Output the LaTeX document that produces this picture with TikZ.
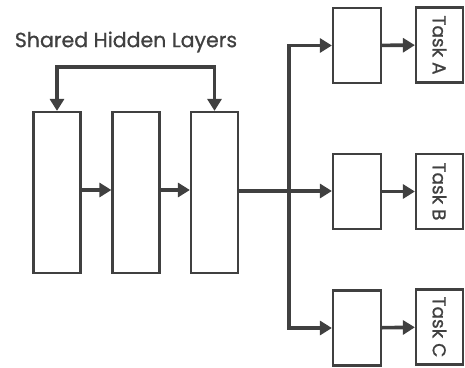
\documentclass[tikz,border=0pt]{standalone}
\usepackage{fontspec}
\setmainfont{Poppins}
\newfontfamily\labelfont{Poppins}[FakeBold=0.8]
\usetikzlibrary{arrows.meta}
\definecolor{ink}{HTML}{404040}
\begin{document}
\begin{tikzpicture}[x=1pt,y=-1pt,
  layer/.style={draw=ink,line width=2.2pt,fill=white,inner sep=0pt,
    minimum width=47pt,minimum height=161pt},
  head/.style={draw=ink,line width=2.2pt,fill=white,inner sep=0pt,
    minimum width=48pt,minimum height=75pt},
  outbox/.style={draw=ink,line width=2.2pt,fill=white,inner sep=0pt,
    minimum width=47pt,minimum height=75pt,
    font=\labelfont\fontsize{18.5}{20}\selectfont,text=ink},
  tip/.tip={Triangle[length=12pt,width=14pt]},
  link/.style={draw=ink,line width=3.6pt,-tip},
  both/.style={draw=ink,line width=3.6pt,tip-tip}]
\useasboundingbox (0,0) rectangle (465,367);

% shared hidden layers
\node[layer] (s1) at (57,192.5) {};
\node[layer] (s2) at (136,192.5) {};
\node[layer] (s3) at (214.5,192.5) {};
\node[font=\labelfont\fontsize{20.5}{24}\selectfont,text=ink] (title) at (126,42) {Shared Hidden Layers};

% task-specific layers
\node[head] (h1) at (357,45.5) {};
\node[head] (h2) at (357,191.5) {};
\node[head] (h3) at (357,328) {};

% task outputs
\node[outbox] (oA) at (439.5,45) {\rotatebox{-90}{Task A}};
\node[outbox] (oB) at (439.5,191.5) {\rotatebox{-90}{Task B}};
\node[outbox] (oC) at (439.5,327) {\rotatebox{-90}{Task C}};

% connections
\coordinate (top) at (0,67);
\draw[both] (s1.north) -- (s1.north |- top) -- (s3.north |- top) -- (s3.north);
\draw[link] (s1.east |- 0,190) -- (s2.west |- 0,190);
\draw[link] (s2.east |- 0,190) -- (s3.west |- 0,190);
\coordinate (split) at (289,191);
\draw[link] (s3.east |- split) -- (h2.west |- split);
\draw[link] (split) |- (h1.west);
\draw[link] (split) |- (h3.west);
\draw[link] (h1) -- (oA);
\draw[link] (h2) -- (oB);
\draw[link] (h3) -- (oC);
\end{tikzpicture}
\end{document}
